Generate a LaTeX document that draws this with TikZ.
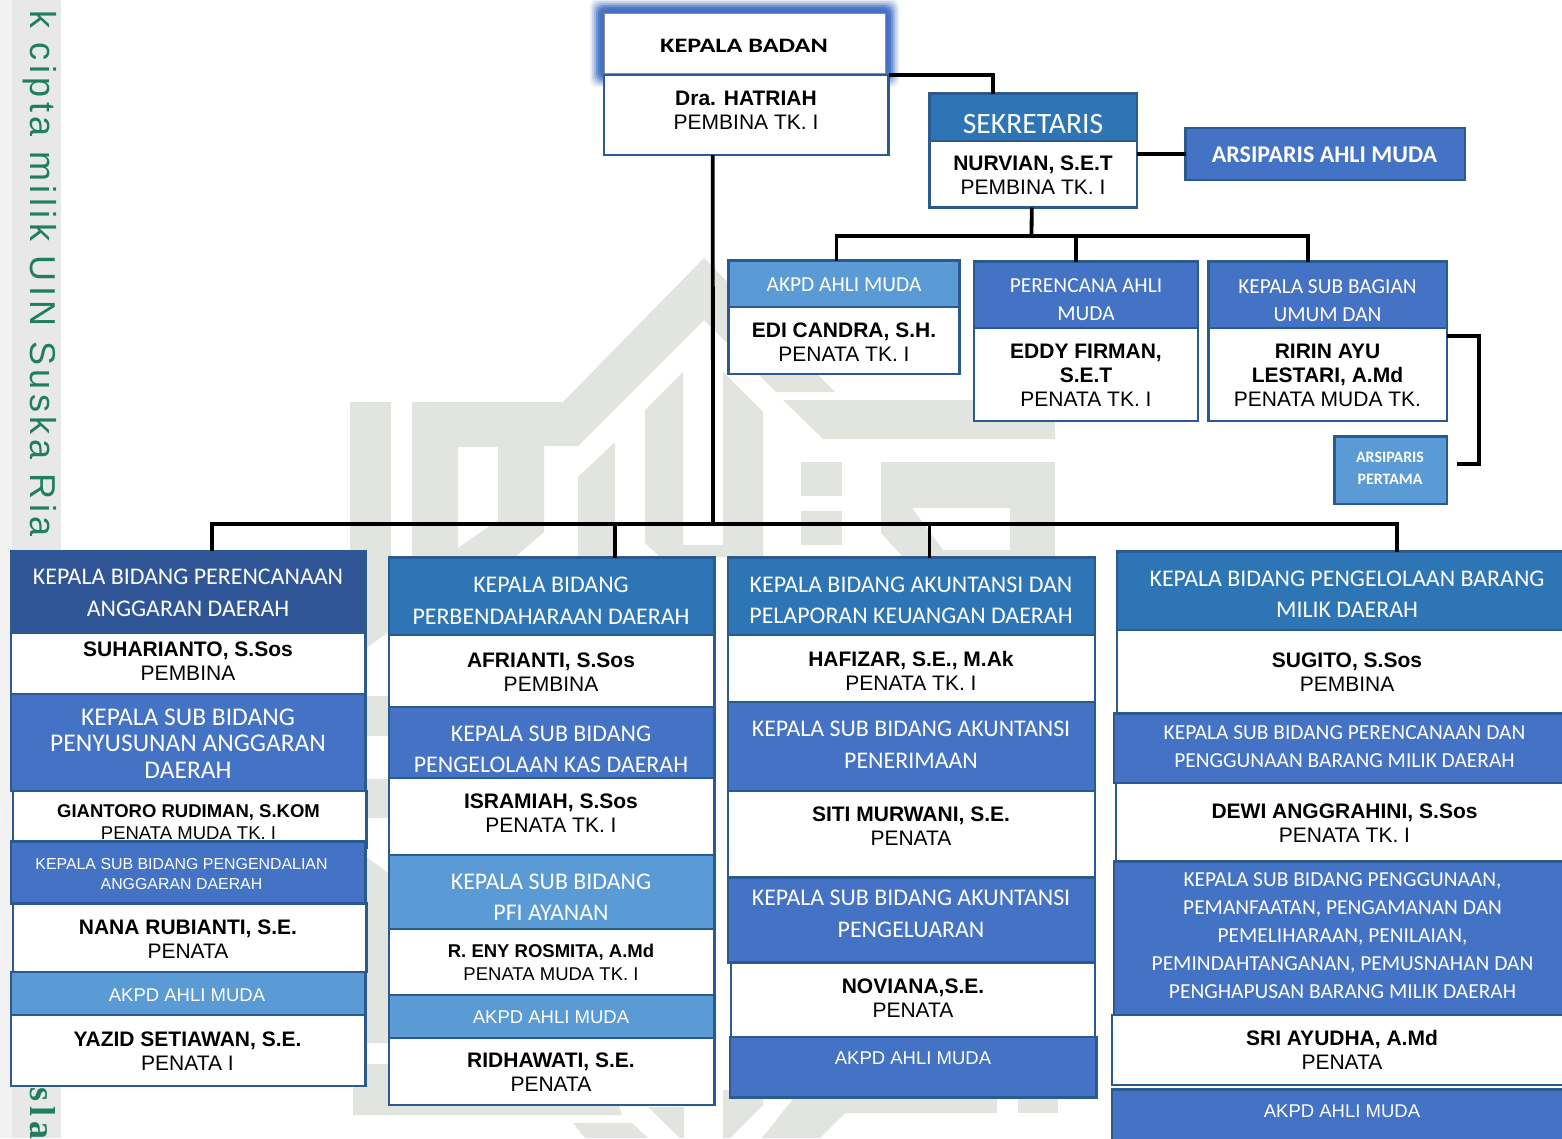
\documentclass[tikz,border=0pt]{standalone}
\usepackage{fontspec}
\setmainfont{Liberation Sans}
\newfontfamily\headfont{Carlito}
\newfontfamily\stripfont[LetterSpace=12.5]{Liberation Sans}
\newfontfamily\stripserif[LetterSpace=14]{Liberation Serif}
\definecolor{boxline}{HTML}{2A5A8F}
\definecolor{navyfill}{HTML}{2F5597}
\definecolor{tealfill}{HTML}{2E75B6}
\definecolor{bluefill}{HTML}{4472C4}
\definecolor{skyfill}{HTML}{5B9BD5}
\definecolor{markgray}{HTML}{E2E4DF}
\definecolor{stripgreen}{HTML}{1F7F5C}
\tikzset{
  boxbase/.style={draw=boxline,line width=2.5pt,anchor=north west,inner sep=0pt,outer sep=0pt},
  navybox/.style={boxbase,fill=navyfill},
  tealbox/.style={boxbase,fill=tealfill},
  bluebox/.style={boxbase,fill=bluefill},
  skybox/.style={boxbase,fill=skyfill},
  whitebox/.style={boxbase,fill=white},
  conn/.style={line width=3.8pt,black},
  person/.style={align=center,inner sep=0pt,font=\fontsize{21}{24}\selectfont},
  personsmall/.style={align=center,inner sep=0pt,font=\fontsize{18.5}{22.5}\selectfont},
  headtxt/.style={align=center,inner sep=0pt,text=white,font=\headfont\fontsize{23.9}{31.5}\selectfont},
  subtxt/.style={align=center,inner sep=0pt,text=white,font=\headfont\fontsize{25.5}{26.5}\selectfont},
  subsmall/.style={align=center,inner sep=0pt,text=white,font=\headfont\fontsize{21.4}{28}\selectfont},
  finetxt/.style={align=center,inner sep=0pt,text=white,font=\fontsize{15.9}{20}\selectfont},
  akpdtxt/.style={align=center,inner sep=0pt,text=white,font=\fontsize{18.5}{22}\selectfont},
}
% name, left, top, right, bottom, box style, text style, text centre, text
\newcommand{\orgbox}[9]{%
  \node[#6,minimum width={(#4-(#2))*1pt},minimum height={(#5-(#3))*1pt}] (#1) at (#2,#3) {};
  \node[#7] (#1T) at #8 {#9};
}
\begin{document}
\begin{tikzpicture}[x=1pt,y=-1pt]
        \useasboundingbox (0,0) rectangle (1562,1138);
        \clip (0,0) rectangle (1562,1138);

        % Leiste
        \fill[white] (0,0) rectangle (1562,1138);
        \fill[black!5] (0,0) rectangle (12,1138);
        \fill[black!9] (12,0) rectangle (61,1138);
        \node[rotate=-90,anchor=base west,inner sep=0pt,text=stripgreen,font=\stripfont\fontsize{36}{36}\selectfont] (stripTop) at (30,10) {k cipta milik UIN Suska Ria};
        \node[rotate=-90,anchor=base west,inner sep=0pt,text=stripgreen,font=\stripserif\bfseries\fontsize{36}{36}\selectfont] (stripBot) at (30,1087) {sla};

        % Wasserzeichen
        \fill[markgray,even odd rule] (412,402) -- (563,402) -- (704,258) -- (835,392) -- (776,392) -- (704,320)
                   -- (578,446) -- (544,446) -- (544,532) -- (515,557) -- (412,557) -- cycle
                   (458,447) -- (498,447) -- (498,520) -- (458,548) -- cycle;
        \fill[markgray] (350,402) -- (391,402) -- (391,630) -- (350,660) -- cycle;
        \fill[markgray] (350,696) rectangle (391,736);
        \fill[markgray] (350,779) rectangle (391,818);
        \fill[markgray] (350,845) -- (391,875) -- (391,1043) -- (350,1043) -- cycle;
        \fill[markgray] (578,477) -- (615,442) -- (615,557) -- (578,557) -- cycle;
        \fill[markgray] (645,410) -- (683,372) -- (683,545) -- (723,545) -- (723,372) -- (763,412)
                   -- (763,557) -- (660,557) -- (645,543) -- cycle;
        \fill[markgray] (783,400) -- (1055,400) -- (1055,439) -- (823,439) -- cycle;
        \fill[markgray] (801,462) rectangle (842,496);
        \fill[markgray] (801,511) rectangle (842,545);
        \fill[markgray,even odd rule] (881,462) -- (1055,462) -- (1055,557) -- (903,557) -- (881,533) -- cycle
                   (912,508) -- (1010,508) -- (1010,550) -- (943,550) -- cycle;
        % Wasserzeichen unten
        \fill[markgray] (353,1064) -- (605,1064) -- (622,1115) -- (353,1115) -- cycle;
        \fill[markgray] (573,1123) -- (632,1123) -- (648,1138) -- (585,1138) -- cycle;
        \fill[markgray] (648,1107) -- (684,1107) -- (684,1138) -- (680,1138) -- cycle;
        \fill[markgray] (723,1090) -- (763,1090) -- (763,1105) -- (730,1138) -- (723,1138) -- cycle;
        \fill[markgray] (800,1090) -- (997,1090) -- (997,1113) -- (845,1113) -- (820,1138) -- (762,1138) -- cycle;
        \fill[markgray] (1018,1090) rectangle (1058,1113);

        % Kepala
        \foreach \g/\o in {14/0.12,12/0.2,10/0.3,8/0.5,6/0.7,4/0.9}
            \fill[bluefill,opacity=\o,rounded corners=8pt] ({604-\g},{13-\g}) rectangle ({885+\g},{73+\g});
        \node[draw=black!45,line width=1pt,fill=white,anchor=north west,inner sep=0pt,outer sep=0pt,minimum width=281pt,minimum height=60pt] (kepala) at (604,13) {};
        \node[inner sep=0pt,font=\headfont\bfseries\fontsize{20.5}{24}\selectfont] (kepalaT) at (744,45.5) {\scalebox{1.28}[1]{KEPALA BADAN}};
        \orgbox{hatriah}{604}{75}{888.5}{155}{whitebox}{person}{(746,110.5)}{\textbf{Dra. HATRIAH}\\PEMBINA TK. I}

        % Sekretaris
        \orgbox{sekretaris}{929.5}{93.5}{1137}{141}{tealbox}{headtxt,font=\headfont\fontsize{29.6}{32}\selectfont}{(1033,123.5)}{SEKRETARIS}
        \orgbox{nurvian}{929.5}{141}{1137}{207.5}{whitebox}{person}{(1033,175.5)}{\textbf{NURVIAN, S.E.T}\\PEMBINA TK. I}
        \orgbox{arsipAM}{1185.5}{128}{1465}{180}{bluebox}{headtxt,font=\headfont\bfseries\fontsize{24}{28}\selectfont}{(1324.5,154.5)}{ARSIPARIS AHLI MUDA}

        \orgbox{akpdSek}{728.5}{260.5}{959.5}{307}{skybox}{subsmall}{(844,284.5)}{AKPD AHLI MUDA}
        \orgbox{edi}{728.5}{307}{959.5}{374}{whitebox}{person}{(844,342)}{\textbf{EDI CANDRA, S.H.}\\PENATA TK. I}
        \orgbox{perencana}{974}{261.5}{1198}{328}{bluebox}{subsmall}{(1086,300)}{PERENCANA AHLI\\MUDA}
        \orgbox{eddy}{974}{328}{1198}{421}{whitebox}{person}{(1086,375)}{\textbf{EDDY FIRMAN,}\\\textbf{S.E.T}\\PENATA TK. I}
        \orgbox{kasubag}{1208.5}{261.5}{1447}{328}{bluebox}{subsmall}{(1327.5,300.5)}{KEPALA SUB BAGIAN\\UMUM DAN}
        \orgbox{ririn}{1208.5}{328}{1447}{421}{whitebox}{person}{(1327.5,375)}{\textbf{RIRIN AYU}\\\textbf{LESTARI, A.Md}\\PENATA MUDA TK.}
        \orgbox{arsipP}{1334.5}{436.5}{1447}{504}{skybox}{headtxt,font=\headfont\bfseries\fontsize{15.9}{22}\selectfont}{(1390,468)}{ARSIPARIS\\PERTAMA}

        % Bidang 1
        \orgbox{bid1}{11}{551}{365.5}{633}{navybox}{headtxt}{(188,593)}{KEPALA BIDANG PERENCANAAN\\ANGGARAN DAERAH}
        \orgbox{suhar}{11}{633}{365.5}{694}{whitebox}{person}{(188,661)}{\textbf{SUHARIANTO, S.Sos}\\PEMBINA}
        \orgbox{sub1a}{11}{694}{365.5}{791}{bluebox}{subtxt}{(188,743.5)}{KEPALA SUB BIDANG\\PENYUSUNAN ANGGARAN\\DAERAH}
        \orgbox{gian}{13}{791}{366.5}{848}{whitebox}{personsmall}{(188.5,822)}{\textbf{GIANTORO RUDIMAN, S.KOM}\\PENATA MUDA TK. I}
        \orgbox{sub1b}{11}{841.5}{365.5}{903.5}{bluebox}{finetxt}{(181.5,874)}{KEPALA SUB BIDANG PENGENDALIAN\\ANGGARAN DAERAH}
        \orgbox{nana}{13}{903.5}{366.5}{972}{whitebox}{person}{(188,939)}{\textbf{NANA RUBIANTI, S.E.}\\PENATA}
        \orgbox{akpd1}{11}{972}{365.5}{1015}{skybox}{akpdtxt}{(187,995)}{AKPD AHLI MUDA}
        \orgbox{yazid}{11}{1015}{365.5}{1086}{whitebox}{person}{(187.5,1051)}{\textbf{YAZID SETIAWAN, S.E.}\\PENATA I}

        % Bidang 2
        \orgbox{bid2}{389}{557.5}{714.5}{635}{tealbox}{headtxt}{(551,600.5)}{KEPALA BIDANG\\PERBENDAHARAAN DAERAH}
        \orgbox{afri}{389}{635}{714.5}{707}{whitebox}{person}{(551,672)}{\textbf{AFRIANTI, S.Sos}\\PEMBINA}
        \orgbox{sub2a}{389}{707}{714.5}{778}{bluebox}{headtxt}{(551,749.5)}{KEPALA SUB BIDANG\\PENGELOLAAN KAS DAERAH}
        \orgbox{isra}{389}{778}{714.5}{855}{whitebox}{person}{(551,813.5)}{\textbf{ISRAMIAH, S.Sos}\\PENATA TK. I}
        \orgbox{sub2b}{389}{855}{714.5}{929}{skybox}{headtxt}{(551,897)}{KEPALA SUB BIDANG\\PFI AYANAN}
        \orgbox{eny}{389}{929}{714.5}{995}{whitebox}{personsmall}{(551,962.5)}{\textbf{R. ENY ROSMITA, A.Md}\\PENATA MUDA TK. I}
        \orgbox{akpd2}{389}{995}{714.5}{1038}{skybox}{akpdtxt}{(551,1017)}{AKPD AHLI MUDA}
        \orgbox{ridha}{389}{1038}{714.5}{1105}{whitebox}{person}{(551,1072)}{\textbf{RIDHAWATI, S.E.}\\PENATA}

        % Bidang 3
        \orgbox{bid3}{728}{557.5}{1095}{635}{tealbox}{headtxt}{(911,600.5)}{KEPALA BIDANG AKUNTANSI DAN\\PELAPORAN KEUANGAN DAERAH}
        \orgbox{hafi}{728}{635}{1095}{702}{whitebox}{person}{(911,671)}{\textbf{HAFIZAR, S.E., M.Ak}\\PENATA TK. I}
        \orgbox{sub3a}{728}{702}{1095}{791}{bluebox}{headtxt}{(911,744.5)}{KEPALA SUB BIDANG AKUNTANSI\\PENERIMAAN}
        \orgbox{siti}{728}{791}{1095}{877.5}{whitebox}{person}{(911,826)}{\textbf{SITI MURWANI, S.E.}\\PENATA}
        \orgbox{sub3b}{728}{877.5}{1095}{962.5}{bluebox}{headtxt}{(911,914)}{KEPALA SUB BIDANG AKUNTANSI\\PENGELUARAN}
        \orgbox{novi}{731}{962.5}{1095}{1037}{whitebox}{person}{(913,998.5)}{\textbf{NOVIANA,S.E.}\\PENATA}
        \orgbox{akpd3}{730}{1037}{1096.5}{1097.5}{bluebox}{akpdtxt}{(913,1058)}{AKPD AHLI MUDA}

        % Bidang 4
        \orgbox{bid4}{1117}{551.5}{1575}{630}{tealbox}{headtxt}{(1347,594)}{KEPALA BIDANG PENGELOLAAN BARANG\\MILIK DAERAH}
        \orgbox{sugito}{1117}{630}{1575}{713.5}{whitebox}{person}{(1347,672)}{\textbf{SUGITO, S.Sos}\\PEMBINA}
        \orgbox{sub4a}{1114}{713.5}{1575}{783}{bluebox}{subsmall}{(1344.5,746.5)}{KEPALA SUB BIDANG PERENCANAAN DAN\\PENGGUNAAN BARANG MILIK DAERAH}
        \orgbox{dewi}{1116}{783}{1575}{861.5}{whitebox}{person}{(1344.5,823)}{\textbf{DEWI ANGGRAHINI, S.Sos}\\PENATA TK. I}
        \orgbox{sub4b}{1114}{861.5}{1575}{1015}{bluebox}{subsmall}{(1342.5,935.5)}{KEPALA SUB BIDANG PENGGUNAAN,\\PEMANFAATAN, PENGAMANAN DAN\\PEMELIHARAAN, PENILAIAN,\\PEMINDAHTANGANAN, PEMUSNAHAN DAN\\PENGHAPUSAN BARANG MILIK DAERAH}
        \orgbox{sri}{1112}{1015}{1575}{1085}{whitebox}{person}{(1342,1049.5)}{\textbf{SRI AYUDHA, A.Md}\\PENATA}
        \orgbox{akpd4}{1112}{1089.5}{1575}{1150}{bluebox}{akpdtxt}{(1342,1111)}{AKPD AHLI MUDA}

        % Linien oben
        \draw[conn] (hatriah.north east) -| ([xshift=-40pt]sekretaris.north);
        \draw[conn] (arsipAM.west) -- (arsipAM.west -| nurvian.east);
        \coordinate (busSek) at (1031.5,236);
        \draw[conn] ([xshift=-1.5pt]nurvian.south) -- (busSek);
        \draw[conn] ([xshift=-7.5pt]akpdSek.north) |- (busSek);
        \draw[conn] ([xshift=-9.75pt]perencana.north) |- (busSek);
        \draw[conn] ([xshift=-19.5pt]kasubag.north) |- (busSek);
        \coordinate (arsipBend) at (1479,464);
        \coordinate (arsipEnd) at (1457,464);
        \draw[conn] ([yshift=-8pt]ririn.north east) -| (arsipBend) -- (arsipEnd);

        % Linien Bidang
        \coordinate (busMain) at (713,524);
        \draw[conn] ([xshift=-33.5pt]hatriah.south) -- (busMain);
        \draw[conn] ([xshift=24pt]bid1.north) |- (busMain);
        \draw[conn] ([xshift=63pt]bid2.north) |- (busMain);
        \draw[conn] ([xshift=18pt]bid3.north) |- (busMain);
        \draw[conn] ([xshift=51pt]bid4.north) |- (busMain);
    \end{tikzpicture}
\end{document}
